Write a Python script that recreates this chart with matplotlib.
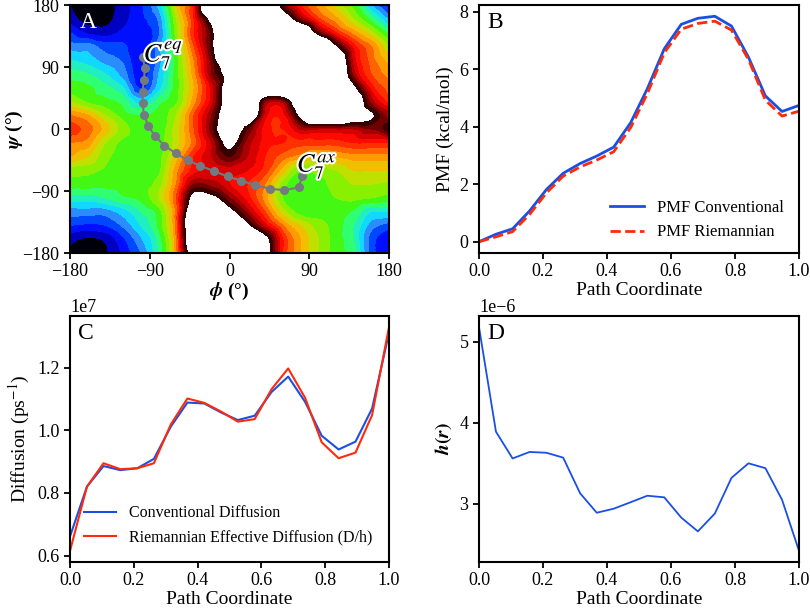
"""
Alanine dipeptide: free-energy map with string path (A), PMF along the path (B),
diffusion profiles (C) and metric factor h(r) (D).
"""

import numpy as np
import matplotlib
matplotlib.use('Agg')
import matplotlib.pyplot as plt
import matplotlib.tri as mtri
import matplotlib.patheffects as pe

plt.rcParams['font.family'] = 'serif'
plt.rcParams['font.serif'] = ['Liberation Serif', 'DejaVu Serif']
plt.rcParams['mathtext.fontset'] = 'stix'
plt.rcParams['axes.linewidth'] = 1.5

# ---------------------------------------------------------------- panel A data
# free energy (in contour-band units, >20 = white) on a 20 deg grid
PHI_GRID = [-180, -160, -140, -120, -100, -80, -60, -40, -20, 0,
            20, 40, 60, 80, 100, 120, 140, 160, 180]
PSI_GRID = [180, 160, 140, 120, 100, 80, 60, 40, 20, 0,
            -20, -40, -60, -80, -100, -120, -140, -160, -180]
ENERGY = [
    [1.0, 0.3, 0.4, 1.5, 2.8, 5.3, 11, 15.5, 28, 30, 30, 28, 18.5, 14.8, 12.5, 10.5, 8.5, 5.0, 2.3],
    [1.5, 0.5, 0.6, 1.7, 2.7, 4.2, 10, 15, 22, 30, 30, 30, 23, 18, 14.3, 12.3, 10, 7.5, 4.7],
    [3, 1.8, 1.5, 2.2, 2.6, 3.8, 9.5, 15, 19.5, 28, 30, 30, 30, 26, 19, 15, 12.5, 10.3, 7.5],
    [4.5, 4.5, 3.5, 3.2, 2.3, 4.5, 9, 14, 19.5, 28, 30, 30, 30, 30, 27, 20.5, 15.5, 13, 10],
    [6, 5.5, 4.5, 3.8, 2.2, 4.5, 8.5, 13, 18.5, 27, 30, 30, 30, 30, 28, 25, 16.5, 13.5, 11.5],
    [7.5, 7, 6, 4.5, 2.3, 5, 8.5, 12.5, 18, 22, 30, 30, 30, 30, 28, 26, 17.5, 14, 12.5],
    [8.5, 8.2, 7.3, 6, 2.8, 5.5, 8.5, 12, 16.5, 23, 30, 27, 27, 30, 30, 28, 21, 15.5, 13.5],
    [10, 8.8, 8.3, 7.5, 5.5, 7.5, 8.8, 12.5, 16.5, 23, 28, 18, 17.5, 24, 28, 28, 24, 17.5, 14.5],
    [13, 12, 10, 8.5, 8, 8.3, 10, 14, 18, 23, 26, 16.5, 15.5, 21, 26, 26, 23, 20.5, 17.5],
    [14.5, 13.5, 11.5, 9.5, 8.3, 8.3, 10.5, 14, 18.5, 24, 19, 15.5, 15, 17, 17, 17, 17, 18, 19.5],
    [13, 12.5, 10, 8.7, 8.3, 8.5, 10.5, 13.5, 17, 21, 17.5, 15.5, 15, 14.5, 14.5, 14.5, 15, 15, 15],
    [12, 11, 9.3, 8.5, 8.3, 8.6, 11.5, 15, 17, 19, 17, 15, 13.5, 12.5, 11.5, 12, 12.5, 12.5, 12.5],
    [9.5, 9.3, 8.8, 8.4, 8.2, 8.7, 12.5, 15.5, 16.5, 16.5, 16, 14.5, 11.5, 9, 9.5, 10, 11, 11, 11],
    [8.5, 8.5, 8.3, 8.3, 8.5, 9.5, 13, 18, 17.5, 16, 15, 13, 9.5, 8.2, 8.5, 9.5, 10, 10, 9.8],
    [6.5, 6.5, 7, 7.8, 8.3, 10, 14, 21.5, 21, 18, 15.5, 12.5, 9, 8.2, 8.4, 9, 9.3, 9, 8.5],
    [4.5, 4.5, 4.5, 5.5, 7.0, 8.5, 13.5, 25, 27, 21.5, 17.5, 14, 10.5, 8.5, 8.5, 8.5, 7.8, 6, 6],
    [3, 2.8, 3, 4.2, 6, 8.2, 13.5, 27, 30, 29, 21, 16.5, 13, 11, 9.5, 8.5, 7, 4.5, 3.5],
    [1.3, 0.8, 1.2, 2.8, 4.8, 7.3, 13, 26, 30, 30, 27, 21.5, 15, 12, 10, 8.5, 7, 3.5, 2.0],
    [0.8, 0.3, 0.8, 2.2, 4.0, 7, 12.5, 24, 28, 30, 27, 22.5, 15, 12, 10, 8.5, 7.5, 3.5, 2.0],
]
LEVELS = [-10, 1, 2, 3, 4, 5, 6, 7, 8, 9, 10, 11, 12, 13, 14, 15, 16, 17, 18, 19, 20]
BAND_COLORS = ['#00000a', '#0000c0', '#0010ff', '#0048ff', '#2a8cff',
               '#10d8ff', '#20f0c0', '#30ff70', '#44f814', '#88f000',
               '#c0e000', '#f0c000', '#ff9a00', '#ff6400', '#ff3000',
               '#ff0a00', '#d80000', '#a80000', '#700000', '#380000']

PATH_PHI = [-98, -95.4, -96.6, -98.1, -98.1, -96.6, -91.7, -84.2, -73.6, -60.9,
            -47.3, -33.1, -17.3, -2.2, 13.5, 29.3, 45.5, 61.6, 78.2, 81.9]
PATH_PSI = [105, 88.2, 71.3, 54.3, 37.4, 20.5, 4.6, -10, -24, -35.1,
            -45.2, -53.4, -61.2, -68.9, -75.2, -81.5, -86.8, -88.7, -84.9, -68.9]

# ---------------------------------------------------------- panels B-D data
PATH_COORD = [0.0, 0.053, 0.105, 0.158, 0.211, 0.263, 0.316, 0.368, 0.421, 0.474,
              0.526, 0.579, 0.632, 0.684, 0.737, 0.789, 0.842, 0.895, 0.947, 1.0]
PMF_CONV = [0.0, 0.26, 0.45, 1.07, 1.82, 2.38, 2.72, 2.98, 3.29, 4.14,
            5.32, 6.71, 7.56, 7.77, 7.84, 7.50, 6.42, 5.07, 4.53, 4.74]
PMF_RIEM = [0.0, 0.17, 0.35, 0.95, 1.70, 2.28, 2.60, 2.84, 3.13, 3.97,
            5.15, 6.57, 7.39, 7.59, 7.67, 7.36, 6.34, 4.92, 4.37, 4.54]
DIFF_CONV = [0.661, 0.820, 0.886, 0.873, 0.879, 0.909, 1.012, 1.089, 1.086, 1.057,
             1.033, 1.047, 1.123, 1.172, 1.091, 0.983, 0.939, 0.964, 1.070, 1.312]  # x1e7
DIFF_RIEM = [0.615, 0.820, 0.895, 0.876, 0.879, 0.895, 1.019, 1.102, 1.088, 1.060,
             1.028, 1.036, 1.132, 1.198, 1.104, 0.962, 0.911, 0.929, 1.049, 1.330]  # x1e7
H_R = [5.18, 3.89, 3.56, 3.64, 3.63, 3.57, 3.13, 2.89, 2.94, 3.02,
       3.10, 3.08, 2.83, 2.66, 2.88, 3.32, 3.50, 3.44, 3.05, 2.42]  # x1e-6

BLUE = '#1a4fe6'
RED = '#ff2a0a'
TICK_FS = 13
LABEL_FS = 14
LETTER_FS = 17
LEGEND_FS = 12

fig = plt.figure(figsize=(8.1, 6.08), dpi=100)
W, H = 810, 608


def add_ax(x0, y0, x1, y1):
    return fig.add_axes([x0 / W, 1 - y1 / H, (x1 - x0) / W, (y1 - y0) / H])


axA = add_ax(70, 5, 389, 253)
axB = add_ax(479, 5, 799, 253)
axC = add_ax(70, 316, 389, 562)
axD = add_ax(479, 316, 799, 562)

# ---------------------------------------------------------------- panel A
P, S = np.meshgrid(PHI_GRID, PSI_GRID)
E = np.array(ENERGY, dtype=float)
tri = mtri.Triangulation(P.ravel().astype(float), S.ravel().astype(float))
interp = mtri.CubicTriInterpolator(tri, E.ravel(), kind='geom')
tri_f, e_f = mtri.UniformTriRefiner(tri).refine_field(
    E.ravel(), triinterpolator=interp, subdiv=3)
axA.tricontourf(tri_f, e_f, levels=LEVELS, colors=BAND_COLORS)

axA.plot(PATH_PHI, PATH_PSI, '-o', color='#737b80', lw=1.5, ms=5.5, zorder=3)

outline = [pe.withStroke(linewidth=3, foreground='white')]
axA.text(-97, 98, r'$\boldsymbol{C_7^{eq}}$', fontsize=19, color='black',
         path_effects=outline, zorder=4)
axA.text(76, -62, r'$\boldsymbol{C_7^{ax}}$', fontsize=19, color='black',
         path_effects=outline, zorder=4)
axA.text(0.03, 0.97, 'A', transform=axA.transAxes, fontsize=LETTER_FS,
         color='white', va='top', ha='left')

axA.set_xlim(-180, 180)
axA.set_ylim(-180, 180)
axA.set_xticks([-180, -90, 0, 90, 180])
axA.set_yticks([-180, -90, 0, 90, 180])
axA.set_xlabel(r'$\boldsymbol{\phi}$ (°)', fontsize=LABEL_FS, labelpad=0,
               fontweight='bold')
axA.set_ylabel(r'$\boldsymbol{\psi}$ (°)', fontsize=LABEL_FS, labelpad=-2,
               fontweight='bold')

# ---------------------------------------------------------------- panel B
axB.plot(PATH_COORD, PMF_CONV, color=BLUE, lw=2, label='PMF Conventional')
axB.plot(PATH_COORD, PMF_RIEM, color=RED, lw=2, ls='--', label='PMF Riemannian')
axB.set_xlim(0, 1)
axB.set_yticks([0, 2, 4, 6, 8])
axB.set_xlabel('Path Coordinate', fontsize=LABEL_FS, labelpad=1)
axB.set_ylabel('PMF (kcal/mol)', fontsize=LABEL_FS)
axB.legend(loc='lower right', frameon=False, fontsize=LEGEND_FS,
           bbox_to_anchor=(1.0, -0.01))
axB.text(0.025, 0.97, 'B', transform=axB.transAxes, fontsize=LETTER_FS,
         va='top', ha='left')

# ---------------------------------------------------------------- panel C
axC.plot(PATH_COORD, np.array(DIFF_CONV) * 1e7, color=BLUE, lw=1.5,
         label='Conventional Diffusion')
axC.plot(PATH_COORD, np.array(DIFF_RIEM) * 1e7, color=RED, lw=1.5,
         label='Riemannian Effective Diffusion (D/h)')
axC.set_xlim(0, 1)
axC.set_yticks([0.6e7, 0.8e7, 1.0e7, 1.2e7])
axC.set_xlabel('Path Coordinate', fontsize=LABEL_FS, labelpad=1)
axC.set_ylabel(r'Diffusion (ps$^{-1}$)', fontsize=LABEL_FS)
axC.legend(loc='lower left', frameon=False, fontsize=LEGEND_FS - 0.5,
           bbox_to_anchor=(0.0, 0.01))
axC.text(0.025, 0.97, 'C', transform=axC.transAxes, fontsize=LETTER_FS,
         va='top', ha='left')

# ---------------------------------------------------------------- panel D
axD.plot(PATH_COORD, np.array(H_R) * 1e-6, color=BLUE, lw=1.3)
axD.set_xlim(0, 1)
axD.set_yticks([3e-6, 4e-6, 5e-6])
axD.set_xlabel('Path Coordinate', fontsize=LABEL_FS, labelpad=1)
axD.set_ylabel(r'$\boldsymbol{h(r)}$', fontsize=LABEL_FS)
axD.text(0.025, 0.97, 'D', transform=axD.transAxes, fontsize=LETTER_FS,
         va='top', ha='left')

for ax in (axA, axB, axC, axD):
    ax.tick_params(labelsize=TICK_FS, width=1.3, length=4)
    ax.yaxis.get_offset_text().set_fontsize(TICK_FS)
for ax in (axB, axC, axD):
    ax.set_xticks([0.0, 0.2, 0.4, 0.6, 0.8, 1.0])

fig.savefig('out.png', dpi=100)
